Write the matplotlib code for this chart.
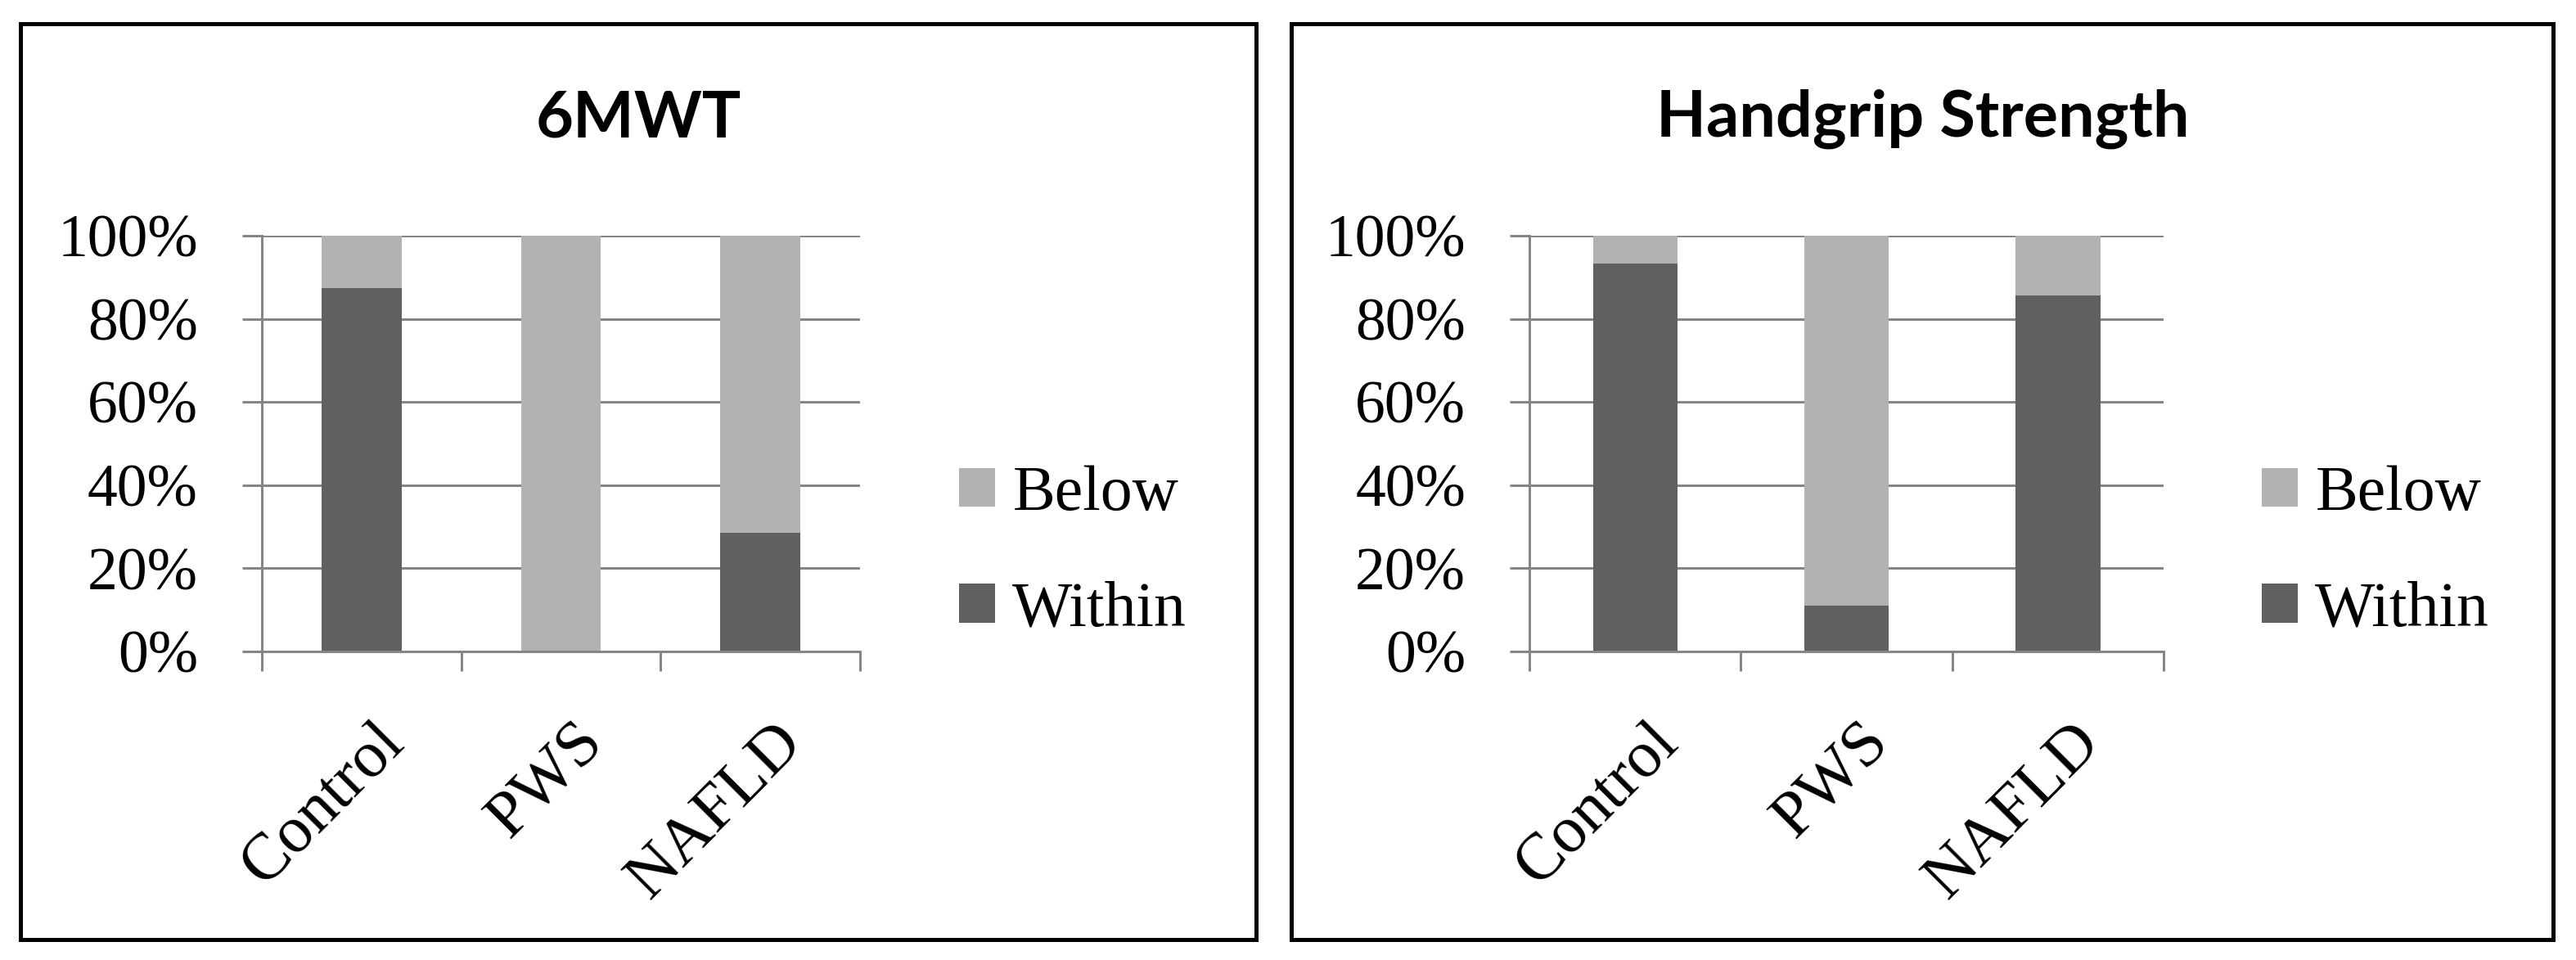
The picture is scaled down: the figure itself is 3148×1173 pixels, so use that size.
import matplotlib.pyplot as plt
import numpy as np
from matplotlib.patches import Rectangle
from matplotlib.transforms import ScaledTranslation

# data (percent of each group)
groups = ["Control", "PWS", "NAFLD"]
walk_within = [87.5, 0.0, 28.6]
walk_below = [12.5, 100.0, 71.4]
grip_within = [93.3, 11.1, 85.7]
grip_below = [6.7, 88.9, 14.3]
panel_titles = ["6MWT", "Handgrip Strength"]
yticks = [0, 20, 40, 60, 80, 100]

DARK = "#606060"
LIGHT = "#b2b2b2"
GRID = "#868686"
SERIF = "Liberation Serif"

W, H, DPI = 3148, 1173, 100
fig = plt.figure(figsize=(W / DPI, H / DPI), dpi=DPI)

def px(v):
    # pixels -> points at this dpi
    return v * 72 / DPI

def draw_panel(ax_rect, frame, title, title_x, legend_x, within, below):
    # outer frame of the panel
    x0, y0, x1, y1 = frame
    fig.add_artist(Rectangle((x0 / W, 1 - y1 / H), (x1 - x0) / W, (y1 - y0) / H,
                             transform=fig.transFigure, fill=False,
                             edgecolor="black", linewidth=px(5)))
    fig.text(title_x / W, 1 - 167 / H, title, ha="center", va="baseline",
             fontsize=57, fontweight="bold", family="Lato")

    ax = fig.add_axes(ax_rect)
    x = np.arange(len(groups))
    ax.bar(x, within, width=0.4, color=DARK, label="Within", zorder=2)
    ax.bar(x, below, width=0.4, bottom=within, color=LIGHT, label="Below", zorder=2)

    ax.set_xlim(-0.5, len(groups) - 0.5)
    ax.set_ylim(0, 100)
    ax.set_yticks(yticks)
    ax.set_yticklabels([f"{v}%" for v in yticks], family=SERIF, fontsize=53)
    ax.yaxis.grid(True, color=GRID, linewidth=px(3))
    ax.set_axisbelow(True)

    for side in ["top", "right"]:
        ax.spines[side].set_visible(False)
    for side in ["left", "bottom"]:
        ax.spines[side].set_color(GRID)
        ax.spines[side].set_linewidth(px(3))

    ax.tick_params(axis="y", direction="out", length=px(24), width=px(3),
                   color=GRID, pad=px(54))
    ax.set_xticks(x)
    ax.set_xticks(np.arange(len(groups) + 1) - 0.5, minor=True)
    ax.tick_params(axis="x", which="major", length=0, pad=px(74))
    ax.tick_params(axis="x", which="minor", direction="out", length=px(24),
                   width=px(3), color=GRID)
    ax.set_xticklabels(groups, family=SERIF, fontsize=58, rotation=45,
                       ha="right", va="top", rotation_mode="anchor")
    shift = ScaledTranslation(px(15) / 72, 0, fig.dpi_scale_trans)
    for lbl in ax.get_xticklabels():
        lbl.set_transform(lbl.get_transform() + shift)

    handles, labels = ax.get_legend_handles_labels()
    fig.legend(handles[::-1], labels[::-1], loc="center left",
               bbox_to_anchor=(legend_x / W, 1 - 675 / H),
               frameon=False, borderpad=0, borderaxespad=0,
               handlelength=0.56, handleheight=0.56, handletextpad=0.28,
               labelspacing=0.9, prop={"family": SERIF, "size": 56})
    return ax

draw_panel([320 / W, 1 - 796 / H, 731 / W, 508 / H], (25, 29, 1535, 1148),
           panel_titles[0], 780, 1172, walk_within, walk_below)
draw_panel([1869 / W, 1 - 796 / H, 775 / W, 508 / H], (1578, 29, 3120, 1148),
           panel_titles[1], 2350, 2764, grip_within, grip_below)

fig.savefig("out.png", dpi=DPI, facecolor="white")
